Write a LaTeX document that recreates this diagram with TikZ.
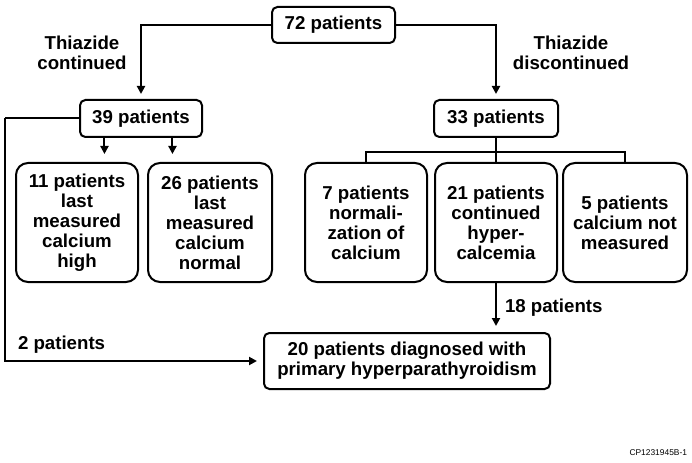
\documentclass[tikz,border=0pt]{standalone}
\usepackage{fontspec}
\setmainfont{Liberation Sans}
\usepackage{tikz}
\usetikzlibrary{arrows.meta}

\begin{document}
\begin{tikzpicture}[x=0.75pt,y=-0.75pt,line width=1.5pt]
\tikzstyle{box}=[draw, rounded corners=4pt, align=center, inner sep=2pt, font=\fontsize{14}{15}\selectfont\bfseries]
\tikzstyle{tall}=[box, rounded corners=9pt, minimum width=91.5pt, minimum height=89.25pt]
\tikzstyle{lbl}=[align=center, inner sep=0pt, font=\fontsize{14}{15}\selectfont\bfseries]
\tikzstyle{arr}=[-{Triangle[length=6pt,width=6pt]}]

\useasboundingbox (0,0) rectangle (692,463);

\node[box, minimum width=92.25pt, minimum height=27pt] (p72) at (333.5,25) {72 patients};
\node[box, minimum width=91.5pt, minimum height=27.75pt] (p39) at (141,118.5) {39 patients};
\node[box, minimum width=93pt, minimum height=27.75pt] (p33) at (496,118.5) {33 patients};
\node[tall] (p11) at (77,222.5) {11 patients\\last\\measured\\calcium\\high};
\node[tall, minimum width=93pt] (p26) at (210,222.5) {26 patients\\last\\measured\\calcium\\normal};
\node[tall] (p7) at (366,222.5) {7 patients\\normali-\\zation of\\calcium};
\node[tall] (p21) at (496,222.5) {21 patients\\continued\\hyper-\\calcemia};
\node[tall, minimum width=93pt] (p5) at (625,222.5) {5 patients\\calcium not\\measured};
\node[box, minimum width=214.5pt, minimum height=42pt] (p20) at (407,361) {20 patients diagnosed with\\primary hyperparathyroidism};

\node[lbl] (tcont) at (82,53) {Thiazide\\continued};
\node[lbl] (tdisc) at (571,53) {Thiazide\\discontinued};
\node[lbl, anchor=west] (two) at (17,345) {2 patients};
\node[anchor=east, inner sep=0pt, font=\fontsize{6.3}{7}\selectfont] (code) at (688,453) {CP1231945B-1};

\coordinate (lft) at (5,118.5);
\coordinate (split) at (496,152);

\draw[arr, shorten >=3.75pt] (p72.west) -| (p39.north);
\draw[arr, shorten >=3.75pt] (p72.east) -| (p33.north);
\draw[arr, shorten >=6pt] ([xshift=-27.4pt]p39.south) -- ([xshift=-27.4pt]p39.south |- p11.north);
\draw[arr, shorten >=6pt] ([xshift=23.6pt]p39.south) -- ([xshift=23.6pt]p39.south |- p26.north);
\draw (p39.west) -- (lft);
\draw[arr, shorten >=4.5pt] (lft) |- (p20.west);
\draw (p33.south) -- (split);
\draw (p7.north) |- (split) -| (p5.north);
\draw (split) -- (p21.north);
\draw[arr, shorten >=4.5pt] (p21.south) -- (p21.south |- p20.north) node[lbl, midway, right=6pt] {18 patients};
\end{tikzpicture}
\end{document}
